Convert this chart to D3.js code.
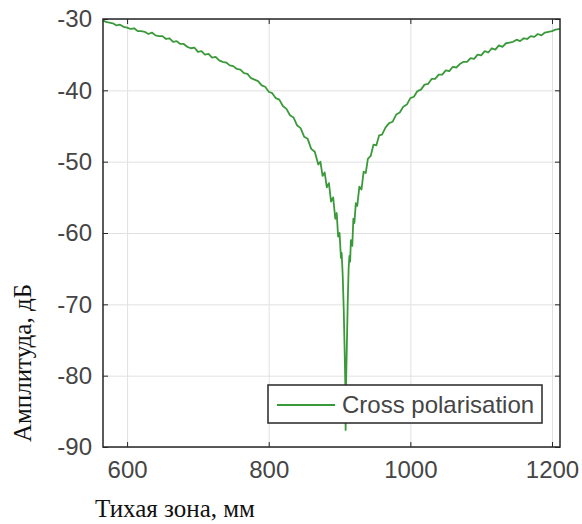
<!DOCTYPE html>
<html>
<head>
<meta charset="utf-8">
<script src="https://cdn.jsdelivr.net/npm/d3@7"></script>
<style>
  body { margin: 0; background: white; }
  svg { display: block; }
</style>
</head>
<body>
<svg></svg>
<script>
var w = 582
var h = 524

// chart data
var xTicks = [600, 800, 1000, 1200]
var yTicks = [-90, -80, -70, -60, -50, -40, -30]
var seriesName = "Cross polarisation"
var zone = [566, 570, 575, 580, 585, 590, 595, 600, 605, 610, 615, 620, 625, 630, 635, 640, 645, 650,
  655, 660, 665, 670, 675, 680, 685, 690, 695, 700, 705, 710, 715, 720, 725, 730, 735, 740, 745, 750,
  755, 760, 765, 770, 775, 780, 785, 790, 795, 800, 805, 810, 815, 820, 825, 830, 835, 840, 845, 850,
  855, 860, 865, 870, 873, 876, 879, 882, 885, 888, 891, 894, 896, 898, 900, 902, 903, 904.5, 906,
  907.3, 908.1, 908.6, 909.2, 910.3, 911.5, 912.8, 914, 915, 916, 918, 919.5, 921, 923, 925, 928, 931,
  934, 937, 940, 944, 948, 952, 956, 960, 965, 970, 975, 980, 985, 990, 995, 1000, 1005, 1010, 1015,
  1020, 1025, 1030, 1035, 1040, 1045, 1050, 1055, 1060, 1065, 1070, 1075, 1080, 1085, 1090, 1095,
  1100, 1105, 1110, 1115, 1120, 1125, 1130, 1135, 1140, 1145, 1150, 1155, 1160, 1165, 1170, 1175,
  1180, 1185, 1190, 1195, 1200, 1205, 1211]
var amplitude = [-30.2, -30.4, -30.5, -30.6, -30.9, -30.8, -31.1, -31.2, -31.4, -31.3, -31.7, -31.7,
  -31.8, -32.1, -31.9, -32.3, -32.4, -32.4, -32.8, -32.7, -33.2, -33.1, -33.5, -33.5, -33.9, -34.1,
  -34.0, -34.6, -34.5, -35.0, -34.9, -35.4, -35.3, -35.8, -36.0, -36.1, -36.5, -36.6, -37.0, -37.1,
  -37.6, -37.7, -38.3, -38.5, -38.7, -39.3, -39.5, -40.2, -40.4, -41.1, -41.3, -42.2, -42.6, -43.5,
  -43.8, -44.9, -45.3, -46.5, -46.8, -48.2, -48.6, -50.4, -50.0, -52.0, -51.5, -53.6, -53.0, -55.6,
  -55.0, -58.0, -57.2, -60.5, -60.0, -63.5, -62.8, -66, -71, -77, -81, -87.6, -81, -76, -70, -65,
  -63.2, -64.0, -61.0, -61.8, -58.0, -58.6, -55.8, -56.2, -53.5, -53.9, -51.4, -51.6, -49.6, -49.2,
  -47.6, -47.7, -46.3, -46.2, -45.2, -44.6, -44.4, -43.4, -43.1, -42.3, -42.0, -41.1, -40.9, -40.1,
  -39.9, -39.2, -39.1, -38.4, -38.4, -37.8, -37.8, -37.2, -37.3, -36.7, -36.8, -36.3, -36.0, -36.0,
  -35.5, -35.6, -35.0, -35.1, -34.5, -34.7, -34.1, -34.3, -33.7, -33.9, -33.4, -33.3, -33.2, -32.9,
  -33.1, -32.7, -32.8, -32.4, -32.5, -32.1, -32.3, -31.9, -31.8, -31.7, -31.5, -31.4]

var plotLeft = 103, plotRight = 560, plotTop = 19, plotBottom = 447
var textColor = "#454545"
var frameColor = "#262626"
var gridColor = "#e1e1e1"
var lineColor = "#3a9a3a"

var svg = d3.select("svg")
  .attr("width", w)
  .attr("height", h)
  .style("background-color", "white")

var x = d3.scaleLinear()
  .domain([566, 1211.3])
  .range([plotLeft, plotRight])

var y = d3.scaleLinear()
  .domain([-90, -30])
  .range([plotBottom, plotTop])

//grid
svg.append("g")
  .attr("class", "grid")
  .attr("transform", "translate(0," + plotBottom + ")")
  .call(d3.axisBottom(x).tickValues(xTicks).tickSize(-(plotBottom - plotTop)).tickFormat(""))

svg.append("g")
  .attr("class", "grid")
  .attr("transform", "translate(" + plotLeft + ",0)")
  .call(d3.axisLeft(y).tickValues(yTicks).tickSize(-(plotRight - plotLeft)).tickFormat(""))

svg.selectAll(".grid .domain").remove()
svg.selectAll(".grid line").attr("stroke", gridColor)

//curve
var line = d3.line()
  .x(function(d, i) { return x(zone[i]) })
  .y(function(d) { return y(d) })

svg.append("path")
  .datum(amplitude)
  .attr("d", line)
  .attr("fill", "none")
  .attr("stroke", lineColor)
  .attr("stroke-width", 1.8)
  .attr("stroke-linejoin", "round")

//axes with inward ticks, plain hyphen minus like the original
var fmt = function(d) { return String(d) }
svg.append("g")
  .attr("class", "axis")
  .attr("transform", "translate(0," + plotBottom + ")")
  .call(d3.axisBottom(x).tickValues(xTicks).tickSize(-5).tickSizeOuter(0).tickPadding(14).tickFormat(fmt))
svg.append("g")
  .attr("class", "axis")
  .attr("transform", "translate(0," + plotTop + ")")
  .call(d3.axisTop(x).tickValues(xTicks).tickSize(-5).tickSizeOuter(0).tickFormat(""))
svg.append("g")
  .attr("class", "axis")
  .attr("transform", "translate(" + plotLeft + ",0)")
  .call(d3.axisLeft(y).tickValues(yTicks).tickSize(-5).tickSizeOuter(0).tickPadding(11).tickFormat(fmt))
svg.append("g")
  .attr("class", "axis")
  .attr("transform", "translate(" + plotRight + ",0)")
  .call(d3.axisRight(y).tickValues(yTicks).tickSize(-5).tickSizeOuter(0).tickFormat(""))

svg.selectAll(".axis .domain").remove()
svg.selectAll(".axis line").attr("stroke", frameColor)
svg.selectAll(".axis text")
  .attr("font-family", "Liberation Sans, Arial, sans-serif")
  .attr("font-size", 24)
  .attr("fill", textColor)

//frame
svg.append("rect")
  .attr("x", plotLeft)
  .attr("y", plotTop)
  .attr("width", plotRight - plotLeft)
  .attr("height", plotBottom - plotTop)
  .attr("fill", "none")
  .attr("stroke", frameColor)
  .attr("stroke-width", 1.5)

//legend
var legend = svg.append("g")
legend.append("rect")
  .attr("x", 268)
  .attr("y", 385)
  .attr("width", 274)
  .attr("height", 38)
  .attr("fill", "white")
  .attr("stroke", frameColor)
  .attr("stroke-width", 1.5)
legend.append("line")
  .attr("x1", 277).attr("x2", 335)
  .attr("y1", 405).attr("y2", 405)
  .attr("stroke", lineColor)
  .attr("stroke-width", 1.8)
legend.append("text")
  .attr("x", 342)
  .attr("y", 413)
  .attr("font-family", "Liberation Sans, Arial, sans-serif")
  .attr("font-size", 24)
  .attr("fill", textColor)
  .text(seriesName)

//axis titles
svg.append("text")
  .attr("x", 95)
  .attr("y", 517)
  .attr("font-family", "Liberation Serif, Times New Roman, serif")
  .attr("font-size", 25)
  .attr("fill", "#111")
  .text("Тихая зона, мм")

svg.append("text")
  .attr("transform", "translate(31,363) rotate(-90)")
  .attr("text-anchor", "middle")
  .attr("font-family", "Liberation Serif, Times New Roman, serif")
  .attr("font-size", 25)
  .attr("fill", "#111")
  .text("Амплитуда, дБ")
</script>
</body>
</html>
